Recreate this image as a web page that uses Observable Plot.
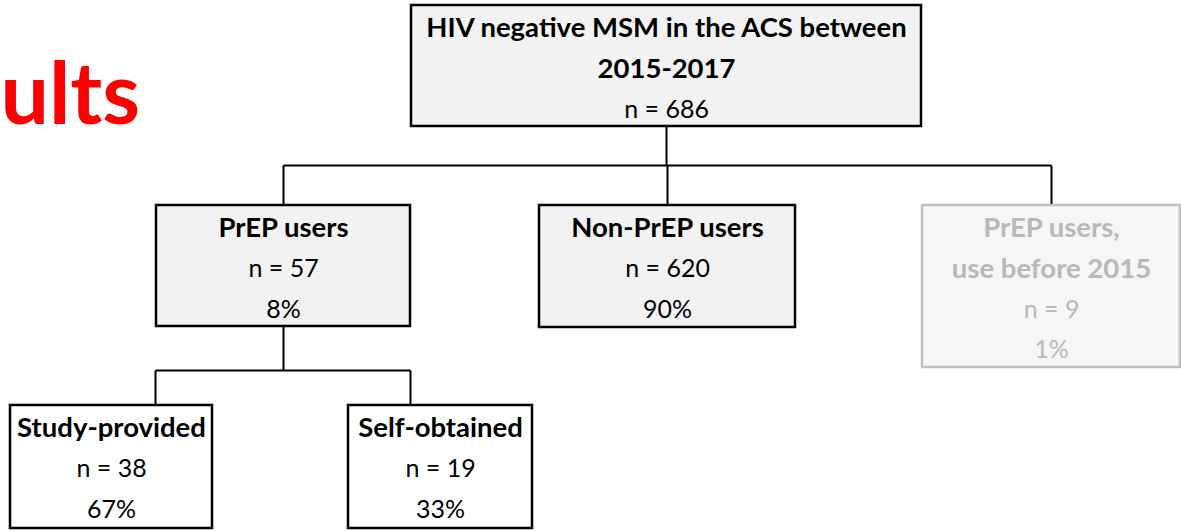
<!DOCTYPE html>
<html>
<head>
<meta charset="utf-8">
<script src="https://cdn.jsdelivr.net/npm/d3@7"></script>
<script src="https://cdn.jsdelivr.net/npm/@observablehq/plot@0.6"></script>
<style>
  html, body { margin: 0; padding: 0; background: #fff; }
  svg { display: block; }
</style>
</head>
<body>
<div id="chart"></div>
<script>
// ---- data ----
const nodeIds = ["all", "prep", "nonprep", "early", "study", "self"];
const nodeTitles = [
  ["HIV negative MSM in the ACS between", "2015-2017"],
  ["PrEP users"],
  ["Non-PrEP users"],
  ["PrEP users,", "use before 2015"],
  ["Study-provided"],
  ["Self-obtained"]
];
const nodeCounts = [686, 57, 620, 9, 38, 19];
const nodePercents = [null, 8, 90, 1, 67, 33];
const nodeParents = [null, "all", "all", "all", "prep", "prep"];
const pageTitle = "ults";

// ---- layout (positions in pixels) ----
const boxLayout = {
  all:     {x1: 411, x2: 921, y1: 5,   y2: 126, style: "main"},
  prep:    {x1: 156, x2: 410, y1: 205, y2: 326, style: "main"},
  nonprep: {x1: 539, x2: 795, y1: 205, y2: 327, style: "main"},
  early:   {x1: 922, x2: 1180, y1: 205, y2: 367, style: "faded"},
  study:   {x1: 10,  x2: 212, y1: 405, y2: 528, style: "plain"},
  self:    {x1: 348, x2: 532, y1: 405, y2: 528, style: "plain"}
};
const busY = {all: 165, prep: 370};
const lineOffset = 23, lineStep = 40.5;

const fills = {main: "#F2F2F2", faded: "#F8F5F5", plain: "#FFFFFF"};
const strokes = {main: "#000000", faded: "#BFBFBF", plain: "#000000"};
const textColors = {main: "#000000", faded: "#B8B8B8", plain: "#000000"};

const boxes = nodeIds.map((id, i) => ({id, ...boxLayout[id]}));

// text lines
const textLines = [];
nodeIds.forEach((id, i) => {
  const b = boxLayout[id];
  const cx = (b.x1 + b.x2) / 2;
  const lines = [];
  nodeTitles[i].forEach(t => lines.push({text: t, bold: true}));
  lines.push({text: `n = ${nodeCounts[i]}`, bold: false});
  if (nodePercents[i] != null) lines.push({text: `${nodePercents[i]}%`, bold: false});
  lines.forEach((l, k) => textLines.push({
    x: cx, y: b.y1 + lineOffset + k * lineStep, text: l.text, bold: l.bold, style: b.style
  }));
});

// connectors
const links = [];
const parentsWithKids = [...new Set(nodeParents.filter(p => p))];
parentsWithKids.forEach(p => {
  const pb = boxLayout[p];
  const px = (pb.x1 + pb.x2) / 2;
  const kids = nodeIds.filter((id, i) => nodeParents[i] === p);
  const kx = kids.map(k => (boxLayout[k].x1 + boxLayout[k].x2) / 2);
  if (p === "prep") { kx[0] = 155; kx[1] = 410; }
  if (p === "all") { kx[2] = 1051; }
  const by = busY[p];
  links.push({x1: px, y1: pb.y2, x2: px, y2: by});
  links.push({x1: d3.min(kx), y1: by, x2: d3.max(kx), y2: by});
  kids.forEach((k, j) => links.push({x1: kx[j], y1: by, x2: kx[j], y2: boxLayout[k].y1}));
});

const font = "Lato, 'Open Sans', sans-serif";

const plot = Plot.plot({
  width: 1181,
  height: 531,
  margin: 0,
  x: {domain: [0, 1181], axis: null},
  y: {domain: [0, 531], axis: null, reverse: true},
  style: {background: "#fff", fontFamily: font},
  marks: [
    Plot.text([pageTitle], {
      x: 0, y: 96, text: d => d, textAnchor: "start",
      fill: "#FF0000", fontSize: 86, fontWeight: "bold", fontFamily: font
    }),
    Plot.link(links, {x1: "x1", y1: "y1", x2: "x2", y2: "y2", stroke: "#000", strokeWidth: 2}),
    Plot.rect(boxes, {
      x1: "x1", x2: "x2", y1: "y1", y2: "y2",
      fill: d => fills[d.style], stroke: d => strokes[d.style], strokeWidth: 2.5
    }),
    Plot.text(textLines.filter(d => d.bold), {
      x: "x", y: "y", text: "text", fill: d => textColors[d.style],
      fontSize: 27.5, fontWeight: "bold", fontFamily: font
    }),
    Plot.text(textLines.filter(d => !d.bold), {
      x: "x", y: "y", text: "text", fill: d => textColors[d.style],
      fontSize: 25, fontFamily: font
    })
  ]
});
document.getElementById("chart").appendChild(plot);
</script>
</body>
</html>
